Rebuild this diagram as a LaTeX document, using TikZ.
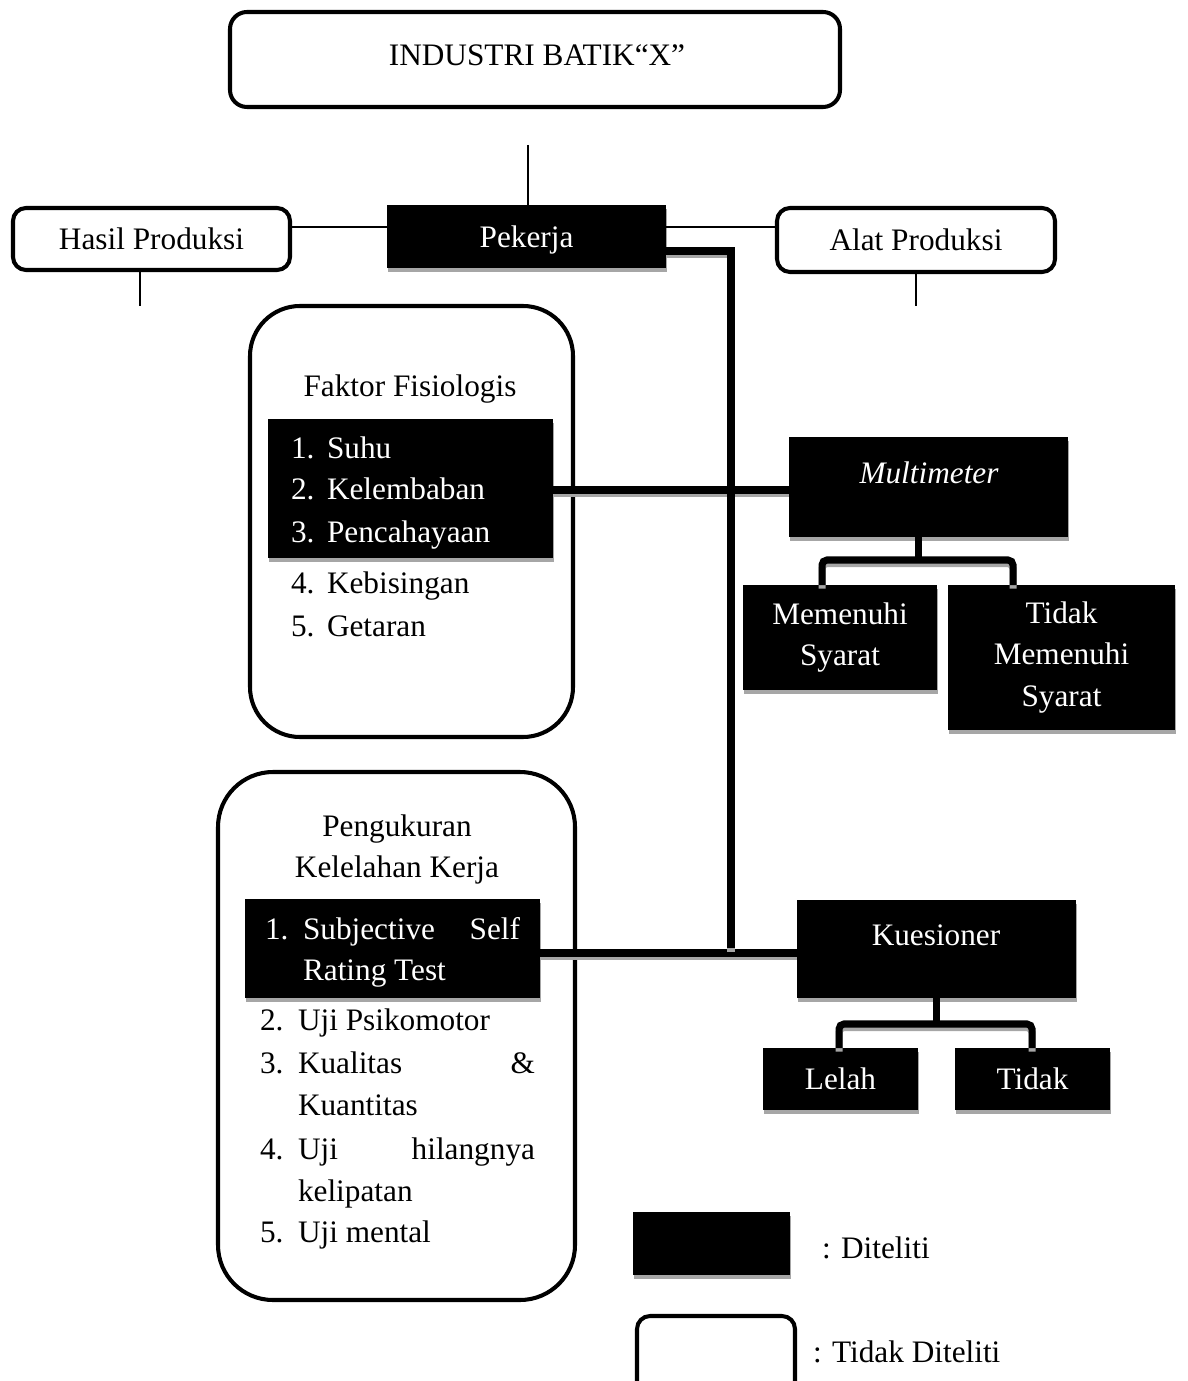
\documentclass[tikz,border=0pt]{standalone}
\usepackage{fontspec}
\setmainfont{Liberation Serif}
\definecolor{shadowgray}{HTML}{A6A6A6}
\begin{document}
\begin{tikzpicture}[x=0.02cm,y=-0.02cm,
  every node/.style={font=\fontsize{17.8}{23.8}\selectfont, inner sep=0pt, outer sep=0pt},
  sz/.style 2 args={minimum width=#1*0.02cm, minimum height=#2*0.02cm},
  rbox/.style={draw=black, line width=2.3pt, rounded corners=0.26cm, fill=white},
  bbox/.style={fill=black, text=white, preaction={fill=shadowgray, transform canvas={xshift=0.02cm, yshift=-0.08cm}}},
  lthin/.style={line width=1.1pt},
  thk/.style={line width=4pt, preaction={draw=shadowgray, line width=4pt, transform canvas={yshift=-0.07cm}}},
  li/.style={anchor=base west},
  lr/.style={anchor=base east},
]
\useasboundingbox (0,0) rectangle (1187,1381);
\clip (0,0) rectangle (1187,1381);

% top
\node[rbox, rounded corners=0.34cm, sz={610}{95}] (top) at (535,59.5) {};
\node (topT) at (537,55) {INDUSTRI BATIK“X”};

% second row
\node[bbox, sz={279}{63}, text depth=0pt] (pek) at (526.5,236.5) {Pekerja};
\node[rbox, sz={277}{62}, text depth=0pt] (hasil) at (151.5,239) {Hasil Produksi};
\node[rbox, sz={278}{64}, text depth=0pt] (alat) at (916,240) {Alat Produksi};

% Faktor Fisiologis
\node[rbox, rounded corners=1.0cm, sz={323}{431}] (faktor) at (411.5,521.5) {};
\node[anchor=base] (faktorT) at (410,397) {Faktor Fisiologis};
\node[bbox, sz={285}{139}] (faktorB) at (410.5,488.5) {};
\node[li, text=white] (f1n) at (291,459) {1.};
\node[li, text=white] (f1) at (327,459) {Suhu};
\node[li, text=white] (f2n) at (291,500) {2.};
\node[li, text=white] (f2) at (327,500) {Kelembaban};
\node[li, text=white] (f3n) at (291,542) {3.};
\node[li, text=white] (f3) at (327,542) {Pencahayaan};
\node[li] (f4n) at (291,593) {4.};
\node[li] (f4) at (327,593) {Kebisingan};
\node[li] (f5n) at (291,636) {5.};
\node[li] (f5) at (327,636) {Getaran};

% Multimeter
\node[bbox, sz={279}{100}] (multi) at (928.5,487) {};
\node[anchor=base, text=white] (multiT) at (929,483) {\itshape Multimeter};
\node[bbox, sz={194}{105}, align=center] (mem) at (840,637.5) {Memenuhi\\Syarat};
\node[bbox, sz={227}{145}, align=center] (tms) at (1061.5,657.5) {Tidak\\Memenuhi\\Syarat};

% Pengukuran
\node[rbox, rounded corners=1.1cm, sz={357}{528}] (peng) at (396.5,1036) {};
\node[anchor=base] (pengT1) at (397,836) {Pengukuran};
\node[anchor=base] (pengT2) at (397,877) {Kelelahan Kerja};
\node[bbox, sz={295}{99}] (pengB) at (392.5,948.5) {};
\node[li, text=white] (p1n) at (265,939) {1.};
\node[li, text=white] (p1a) at (303,939) {Subjective};
\node[lr, text=white] (p1b) at (520,939) {Self};
\node[li, text=white] (p1c) at (303,980) {Rating Test};
\node[li] (p2n) at (260,1030) {2.};
\node[li] (p2) at (298,1030) {Uji Psikomotor};
\node[li] (p3n) at (260,1073) {3.};
\node[li] (p3a) at (298,1073) {Kualitas};
\node[lr] (p3b) at (535,1073) {\&};
\node[li] (p3c) at (298,1115) {Kuantitas};
\node[li] (p4n) at (260,1159) {4.};
\node[li] (p4a) at (298,1159) {Uji};
\node[lr] (p4b) at (535,1159) {hilangnya};
\node[li] (p4c) at (298,1201) {kelipatan};
\node[li] (p5n) at (260,1242) {5.};
\node[li] (p5) at (298,1242) {Uji mental};

% Kuesioner
\node[bbox, sz={279}{98}] (kues) at (936.5,949) {};
\node[anchor=base, text=white] (kuesT) at (936,945) {Kuesioner};
\node[bbox, sz={155}{62}] (lelah) at (840.5,1079) {Lelah};
\node[bbox, sz={155}{62}] (tidak) at (1032.5,1079) {Tidak};

% legend
\node[bbox, sz={157}{63}] (legB) at (711.5,1243.5) {};
\node[anchor=base west] (legBT) at (822,1258) {: Diteliti};
\node[rbox, sz={158}{90}] (legW) at (716,1361) {};
\node[anchor=base west] (legWT) at (813,1362) {: Tidak Diteliti};

% thin connectors
\coordinate (ptop) at (528,145);
\draw[lthin] (ptop) -- (ptop |- pek.north);
\coordinate (hy) at (0,227);
\draw[lthin] (hasil.east |- hy) -- (pek.west |- hy);
\draw[lthin] (pek.east |- hy) -- (alat.west |- hy);
\coordinate (hd) at (140,306);
\draw[lthin] (hd |- hasil.south) -- (hd);
\coordinate (ad) at (916,306);
\draw[lthin] (ad |- alat.south) -- (ad);

% thick connectors
\coordinate (fy) at (0,490);
\draw[thk] (faktorB.east |- fy) -- (multi.west |- fy);
\coordinate (ky) at (0,953);
\draw[thk] (pengB.east |- ky) -- (kues.west |- ky);
\coordinate (vtop) at (731,251);
\coordinate (vend) at (731,948);
\draw[thk] (pek.east |- vtop) -- (vtop) -- (vend);

% Multimeter branch
\coordinate (mL) at (822,560);
\coordinate (mR) at (1013,560);
\coordinate (mC) at (918,560);
\draw[thk] (multi.south -| mC) -- (mC);
\draw[thk, rounded corners=0.1cm] (mem.north -| mL) -- (mL) -- (mR) -- (tms.north -| mR);

% Kuesioner branch
\coordinate (kL) at (839,1024);
\coordinate (kR) at (1032,1024);
\coordinate (kC) at (936,1024);
\draw[thk] (kues.south -| kC) -- (kC);
\draw[thk, rounded corners=0.1cm] (lelah.north -| kL) -- (kL) -- (kR) -- (tidak.north -| kR);
\end{tikzpicture}
\end{document}
